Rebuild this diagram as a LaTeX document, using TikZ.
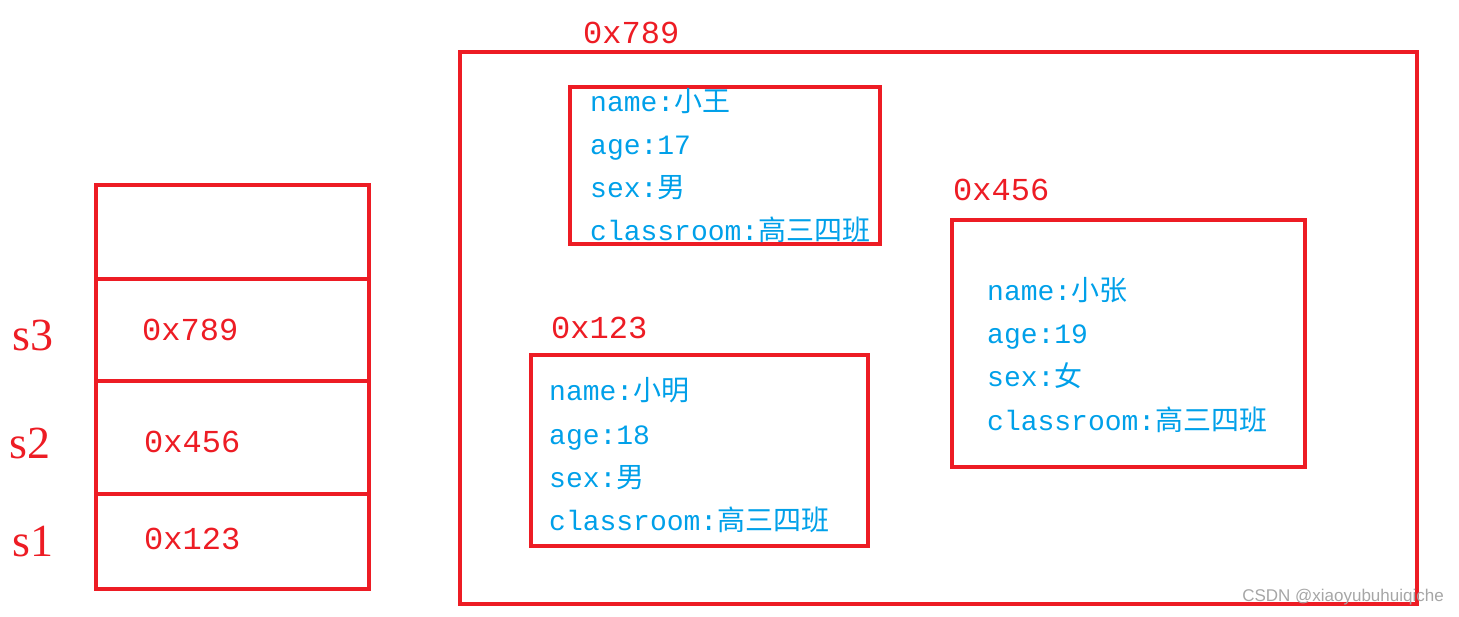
\documentclass[tikz,border=0pt]{standalone}
\usepackage{fontspec}
\setmainfont{Liberation Serif}
\newfontfamily\lmono{Liberation Mono}
\newfontfamily\zh{Noto Sans CJK SC}
\newfontfamily\wm{Liberation Sans}
\definecolor{rd}{HTML}{ED1C24}
\definecolor{bl}{HTML}{00A0E9}
\begin{document}
\begin{tikzpicture}[x=1pt,y=-1pt,
  box/.style={draw=rd,line width=4pt},
  info/.style={anchor=base west,inner sep=0pt,text=bl,font=\lmono\fontsize{28}{32}\selectfont},
  addr/.style={anchor=west,inner sep=0pt,text=rd,font=\lmono\fontsize{32}{36}\selectfont},
  var/.style={anchor=west,inner sep=0pt,text=rd,font=\fontsize{46}{50}\selectfont}]
\useasboundingbox (0,0) rectangle (1459,617);
% stack
\draw[box] (96,185) rectangle (369,279);
\draw[box] (96,279) rectangle (369,381);
\draw[box] (96,381) rectangle (369,494);
\draw[box] (96,494) rectangle (369,589);
\node[addr] (a1) at (142,330) {0x789};
\node[addr] (a2) at (144,442) {0x456};
\node[addr] (a3) at (144,539) {0x123};
\node[var] (s3) at (12,335) {s3};
\node[var] (s2) at (9,443) {s2};
\node[var] (s1) at (12,542) {s1};
% heap
\draw[box] (460,52) rectangle (1417,604);
\draw[box] (570,87) rectangle (880,244);
\draw[box] (531,355) rectangle (868,546);
\draw[box] (952,220) rectangle (1305,467);
\node[addr] (h1) at (583,33) {0x789};
\node[addr] (h2) at (551,328) {0x123};
\node[addr] (h3) at (953,190) {0x456};
\node[info] (w1) at (590,112) {name:{\zh 小王}};
\node[info] (w2) at (590,155) {age:17};
\node[info] (w3) at (590,198) {sex:{\zh 男}};
\node[info] (w4) at (590,241) {classroom:{\zh 高三四班}};
\node[info] (m1) at (549,400) {name:{\zh 小明}};
\node[info] (m2) at (549,444) {age:18};
\node[info] (m3) at (549,487) {sex:{\zh 男}};
\node[info] (m4) at (549,530) {classroom:{\zh 高三四班}};
\node[info] (z1) at (987,301) {name:{\zh 小张}};
\node[info] (z2) at (987,344) {age:19};
\node[info] (z3) at (987,387) {sex:{\zh 女}};
\node[info] (z4) at (987,430) {classroom:{\zh 高三四班}};
\node[anchor=east,inner sep=0pt,text=gray!70,font=\wm\fontsize{17}{20}\selectfont] (wmk) at (1444,597) {CSDN @xiaoyubuhuiqiche};
\end{tikzpicture}
\end{document}
